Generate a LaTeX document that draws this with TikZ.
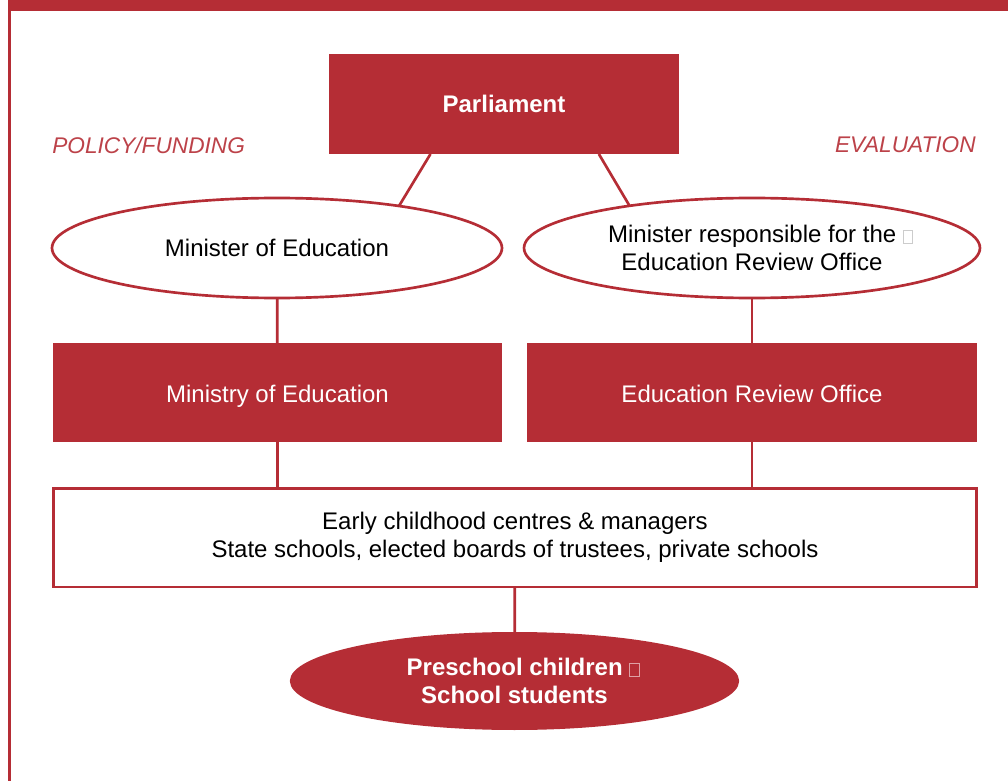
\documentclass[tikz,border=0pt]{standalone}
\usepackage{fontspec}
\setmainfont{Liberation Sans}
\usetikzlibrary{calc,shapes.geometric}
\definecolor{ercred}{RGB}{181,45,53}
\newcommand{\missingbox}[1]{\textcolor{#1}{\setlength{\fboxrule}{0.6pt}\setlength{\fboxsep}{0pt}\fbox{\rule{0pt}{9pt}\hspace{6.5pt}}}}
\tikzset{
  redbox/.style={rectangle,fill=ercred,text=white,inner sep=0pt,outer sep=0pt,
    minimum width=337pt,minimum height=74.25pt,text height=15pt,text depth=0pt,
    font=\fontsize{18}{21}\selectfont},
  openbox/.style={rectangle,draw=ercred,line width=2pt,fill=white,inner sep=0pt,outer sep=0pt,
    minimum width=692pt,minimum height=74pt,align=center,font=\fontsize{18}{21}\selectfont},
  oval/.style={ellipse,draw=ercred,line width=2pt,fill=white,inner sep=0pt,outer sep=0pt,
    minimum width=337.5pt,minimum height=75pt,align=center,font=\fontsize{18}{21}\selectfont},
  link/.style={draw=ercred,line width=2pt},
  side/.style={text=ercred!90,inner sep=0pt,font=\fontsize{17}{20}\selectfont\itshape}
}

\begin{document}
\begin{tikzpicture}[x=0.75pt,y=-0.75pt]
\useasboundingbox (0,0) rectangle (1008,781);
% page frame
\fill[ercred] (8,0) rectangle (1008,11);
\fill[ercred] (8,11) rectangle (11,781);

\node (parl) [redbox,minimum width=262.5pt,minimum height=75pt,text height=13pt,font=\fontsize{18}{21}\selectfont\bfseries] at (504,104) {Parliament};
\node (policy) [side,anchor=west] at (52,145) {POLICY/FUNDING};
\node (evaluation) [side,anchor=east] at (976,145) {EVALUATION};

\node (minEdu) [oval] at (277,248) {Minister of Education};
\node (minERO) [oval] at (752,248) {\hspace*{13pt}Minister responsible for the \missingbox{black!20}\\Education Review Office};

\node (ministry) [redbox] at (277.5,392.5) {Ministry of Education};
\node (ero) [redbox] at (752,392.5) {Education Review Office};

\node (providers) [openbox] at (515,537.5) {Early childhood centres \& managers\\State schools, elected boards of trustees, private schools};

\node (learners) [oval,fill=ercred,draw=none,minimum width=337pt,minimum height=73.5pt,text=white,font=\fontsize{18}{21}\selectfont\bfseries] at (514.5,681) {\hspace*{13pt}Preschool children \missingbox{white!55!ercred}\\School students};

% connectors
\draw[link] ($(parl.south west)!0.29!(parl.south east)$) -- (minEdu.19);
\draw[link] ($(parl.south west)!0.771!(parl.south east)$) -- (minERO.161);
\draw[link] (minEdu) -- (ministry);
\draw[link] (minERO) -- (ero);
\draw[link] (ministry.south) -- (ministry.south |- providers.north);
\draw[link] (ero.south) -- (ero.south |- providers.north);
\draw[link] (providers) -- (learners);
\end{tikzpicture}
\end{document}
